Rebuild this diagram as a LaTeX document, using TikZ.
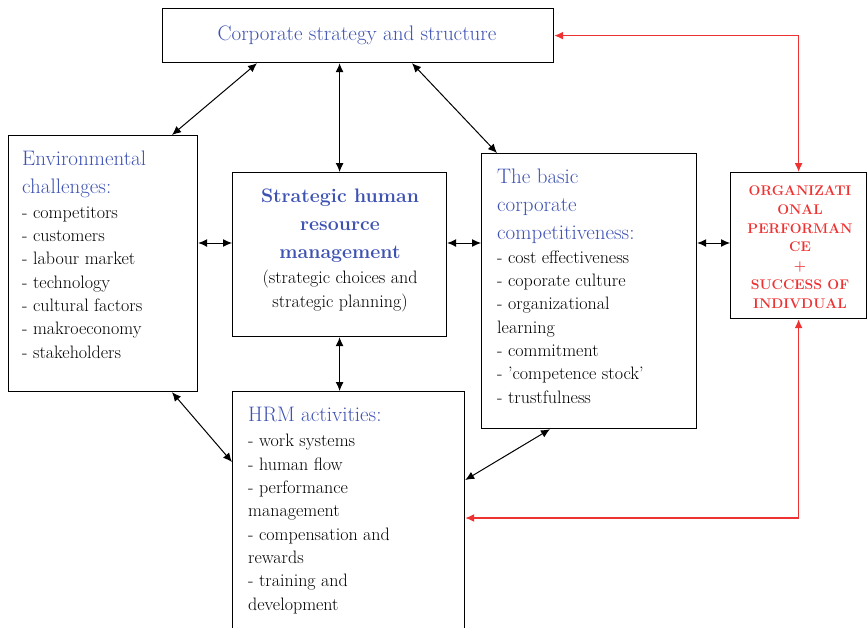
\documentclass[tikz,border=0pt]{standalone}
\usetikzlibrary{arrows.meta}
\definecolor{hrblue}{RGB}{62,82,178}
\definecolor{hrred}{RGB}{238,50,50}

\begin{document}
\begin{tikzpicture}[x=1pt, y=-1pt,
    box/.style={draw, line width=1.2pt, inner sep=0pt, anchor=north west},
    txt/.style={anchor=base west, align=left, inner sep=0pt,
        font=\fontsize{18}{23.3}\selectfont},
    head/.style={txt, text=hrblue, font=\fontsize{21}{28}\selectfont},
    link/.style={{Latex[length=9pt,width=8pt]}-{Latex[length=9pt,width=8pt]}, line width=1pt},
    redlink/.style={link, draw=hrred, line width=1.4pt}]
    \useasboundingbox (0,0) rectangle (867,627);

    \node[box, minimum width=391pt, minimum height=54pt] (corp) at (162,8) {};
    \node[box, minimum width=189pt, minimum height=256pt] (env) at (8,135) {};
    \node[box, minimum width=214pt, minimum height=164pt] (shrm) at (232,172) {};
    \node[box, minimum width=215pt, minimum height=275pt] (basic) at (481,153) {};
    \node[box, minimum width=136pt, minimum height=146pt] (org) at (730,172) {};
    \node[box, minimum width=232pt, minimum height=245pt] (hrm) at (232,391) {};
    \coordinate (mid) at (0,243);

    % multi-line texts sit on the baseline of their last line
    \node[head, anchor=base] (corptext) at (357,40) {Corporate strategy and structure};
    \node[head] (envhead) at (22,193) {Environmental\\challenges:};
    \node[txt] (envlist) at (22,358) {- competitors\\- customers\\- labour market\\
        - technology\\- cultural factors\\- makroeconomy\\- stakeholders};
    \node[head, align=center, anchor=base, font=\bfseries\fontsize{19.5}{28}\selectfont]
        (shrmhead) at (340,258) {Strategic human\\resource\\management};
    \node[txt, align=center, anchor=base] (shrmtext) at (340,307)
        {(strategic choices and\\strategic planning)};
    \node[head] (basichead) at (497,239) {The basic\\corporate\\competitiveness:};
    \node[txt] (basiclist) at (497,403) {- cost effectiveness\\- coporate culture\\
        - organizational\\learning\\- commitment\\- 'competence stock'\\- trustfulness};
    \node[txt, align=center, anchor=base, text=hrred,
        font=\bfseries\fontsize{14}{18.7}\selectfont] (orgtext) at (800,308)
        {ORGANIZATI\\ONAL\\PERFORMAN\\CE\\+\\SUCCESS OF\\INDIVDUAL};
    \node[head] (hrmhead) at (248,421) {HRM activities:};
    \node[txt] (hrmlist) at (248,610) {- work systems\\- human flow\\- performance\\
        management\\- compensation and\\rewards\\- training and\\development};

    \draw[link] ([xshift=95]corp.south west) -- ([xshift=164]env.north west);
    \draw[link] (shrm.north |- corp.south) -- (shrm.north);
    \draw[link] ([xshift=250]corp.south west) -- ([xshift=16]basic.north west);
    \draw[link] (env.east |- mid) -- (shrm.west |- mid);
    \draw[link] (shrm.east |- mid) -- (basic.west |- mid);
    \draw[link] (basic.east |- mid) -- (org.west |- mid);
    \draw[link] (shrm.south) -- (shrm.south |- hrm.north);
    \draw[link] ([xshift=164]env.south west) -- ([yshift=-71]hrm.north west);
    \draw[link] ([xshift=69]basic.south west) -- ([yshift=-89]hrm.north east);
    \draw[redlink] (org.north) |- (corp.east);
    \draw[redlink] (org.south) |- ([yshift=-127]hrm.north east);

\end{tikzpicture}
\end{document}
